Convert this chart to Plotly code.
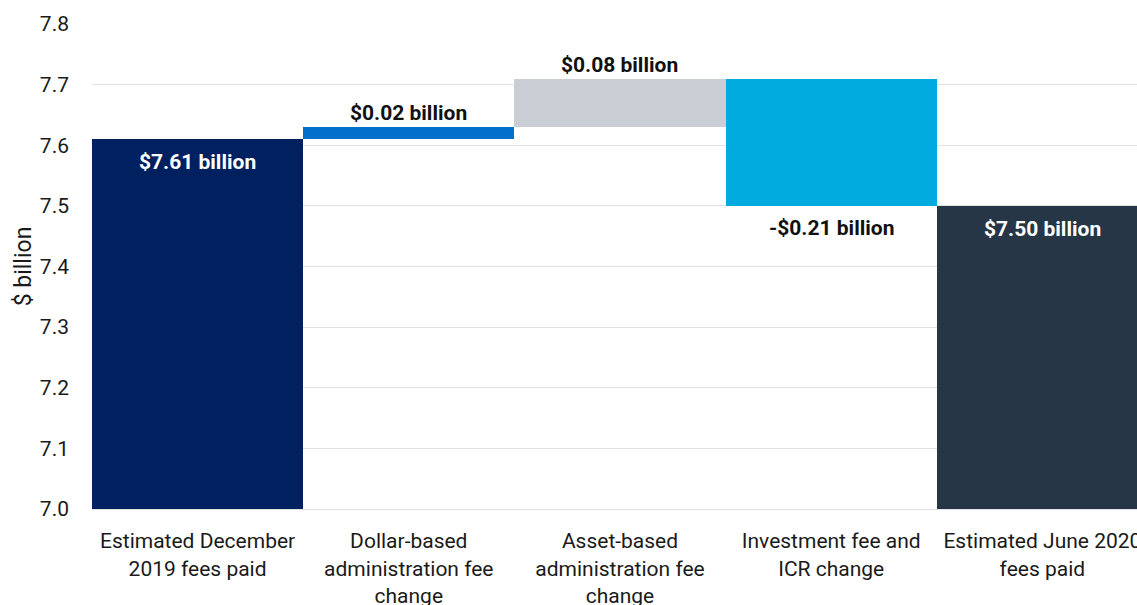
import plotly.graph_objects as go

# Waterfall steps: opening total, three changes, closing total ($ billion)
categories = [
    "Estimated December<br>2019 fees paid",
    "Dollar-based<br>administration fee<br>change",
    "Asset-based<br>administration fee<br>change",
    "Investment fee and<br>ICR change",
    "Estimated June 2020<br>fees paid",
]
measures = ["absolute", "relative", "relative", "relative", "total"]
values = [7.61, 0.02, 0.08, -0.21, 7.50]
labels = ["$7.61 billion", "$0.02 billion", "$0.08 billion", "-$0.21 billion", "$7.50 billion"]
colors = ["#002060", "#0070CC", "#C8CED4", "#00AADF", "#263646"]

axis_floor = 7.0
y_ticks = [7.0, 7.1, 7.2, 7.3, 7.4, 7.5, 7.6, 7.7, 7.8]

# Compute bar bases and lengths from the running total
bases, lengths = [], []
running = axis_floor
for m, v in zip(measures, values):
    if m == "absolute":
        running = v
        bases.append(axis_floor)
        lengths.append(v - axis_floor)
    elif m == "total":
        bases.append(axis_floor)
        lengths.append(running - axis_floor)
    else:
        bases.append(running)
        lengths.append(v)
        running += v

FONT = "Roboto"
SIZE = 21
TEXT = "#1a1a1a"

fig = go.Figure(
    go.Bar(
        x=list(range(len(categories))),
        y=lengths,
        base=bases,
        marker=dict(color=colors, line=dict(width=0)),
        hoverinfo="skip",
    )
)

# Value labels: totals inside the bar top, increases above, decreases below
for i, (m, b, h, t) in enumerate(zip(measures, bases, lengths, labels)):
    top = b + max(h, 0)
    bottom = b + min(h, 0)
    if m in ("absolute", "total"):
        fig.add_annotation(x=i, y=top, text=f"<b>{t}</b>", showarrow=False,
                           yanchor="top", yshift=-9,
                           font=dict(family=FONT, size=SIZE, color="white"))
    elif h >= 0:
        fig.add_annotation(x=i, y=top, text=f"<b>{t}</b>", showarrow=False,
                           yanchor="bottom", yshift=0,
                           font=dict(family=FONT, size=SIZE, color="#111111"))
    else:
        fig.add_annotation(x=i, y=bottom, text=f"<b>{t}</b>", showarrow=False,
                           yanchor="top", yshift=-8,
                           font=dict(family=FONT, size=SIZE, color="#111111"))

fig.update_layout(
    width=1137,
    height=605,
    margin=dict(l=92, r=0, t=24, b=96),
    paper_bgcolor="white",
    plot_bgcolor="white",
    bargap=0,
    showlegend=False,
    font=dict(family=FONT, size=SIZE, color=TEXT),
    xaxis=dict(
        tickmode="array",
        tickvals=list(range(len(categories))),
        ticktext=categories,
        range=[-0.5, 4.448],
        showgrid=False,
        zeroline=False,
        showline=True,
        linecolor="#e2e2e2",
        linewidth=1,
        ticks="",
        ticklabelstandoff=13,
        ticklabeloverflow="allow",
        automargin=False,
        tickfont=dict(family=FONT, size=SIZE, color=TEXT),
    ),
    yaxis=dict(
        range=[axis_floor, 7.8],
        tickvals=y_ticks,
        ticktext=[f"{v:.1f}" for v in y_ticks],
        showgrid=True,
        gridcolor="#e2e2e2",
        gridwidth=1,
        zeroline=False,
        ticks="",
        ticklabelstandoff=22,
        automargin=False,
        tickfont=dict(family=FONT, size=SIZE, color=TEXT),
        title=dict(text="$ billion", standoff=1,
                   font=dict(family=FONT, size=23, color=TEXT)),
    ),
)

fig.write_html("out.html")
